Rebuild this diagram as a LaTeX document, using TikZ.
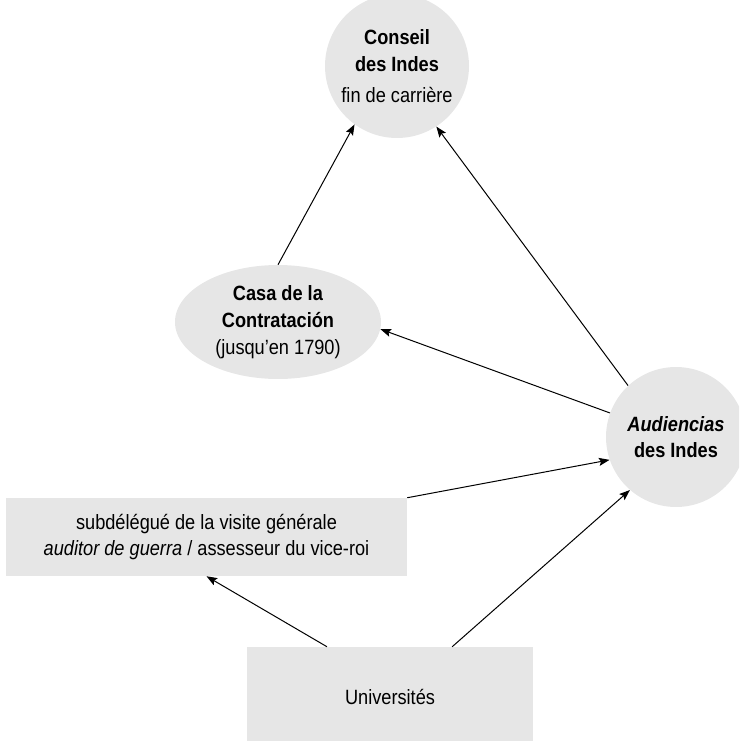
\documentclass[tikz,border=0pt]{standalone}
\usepackage{fontspec}
\setmainfont{Liberation Sans}[FakeStretch=0.88]
\usetikzlibrary{shapes.geometric,arrows.meta,calc}
\definecolor{nodefill}{RGB}{230,230,230}
\tikzset{
  blob/.style={fill=nodefill,draw=none,inner sep=0pt,align=center,
    font=\fontsize{15.5}{20}\selectfont},
  roundblob/.style={blob,circle},
  ovalblob/.style={blob,ellipse},
  boxblob/.style={blob,rectangle},
  link/.style={line width=0.75pt,-{Stealth[length=8pt,width=6pt,inset=1.5pt]}}
}
\begin{document}
\begin{tikzpicture}[x=0.75pt,y=-0.75pt]
\useasboundingbox (0,0) rectangle (739,741);
\clip (0,0) rectangle (739,741);
\node[roundblob,minimum size=108pt] (conseil) at (397,66)
  {\textbf{Conseil}\\\textbf{des Indes}\\[3pt]fin de carrière};
\node[ovalblob,minimum width=154.5pt,minimum height=85.5pt] (casa) at (278,322)
  {\textbf{Casa de la}\\\textbf{Contratación}\\(jusqu’en 1790)};
\node[roundblob,minimum size=105pt] (aud) at (676,437)
  {\textbf{\textit{Audiencias}}\\\textbf{des Indes}};
\node[boxblob,minimum width=300.75pt,minimum height=58.5pt] (sub) at (206.5,537)
  {subdélégué de la visite générale\\\textit{auditor de guerra} / assesseur du vice-roi};
\node[boxblob,minimum width=214.5pt,minimum height=75pt] (univ) at (390,697)
  {Universités};
\draw[link] (casa.north) -- (conseil.234);
\draw[link] (aud.133) -- (conseil.303);
\draw[link] (aud.160) -- (casa.356);
\draw[link] (sub.north east) -- (aud.199);
\draw[link] ($(univ.north west)!0.717!(univ.north east)$) -- (aud.229);
\draw[link] ($(univ.north west)!0.28!(univ.north east)$) -- (sub.south);
\end{tikzpicture}
\end{document}
